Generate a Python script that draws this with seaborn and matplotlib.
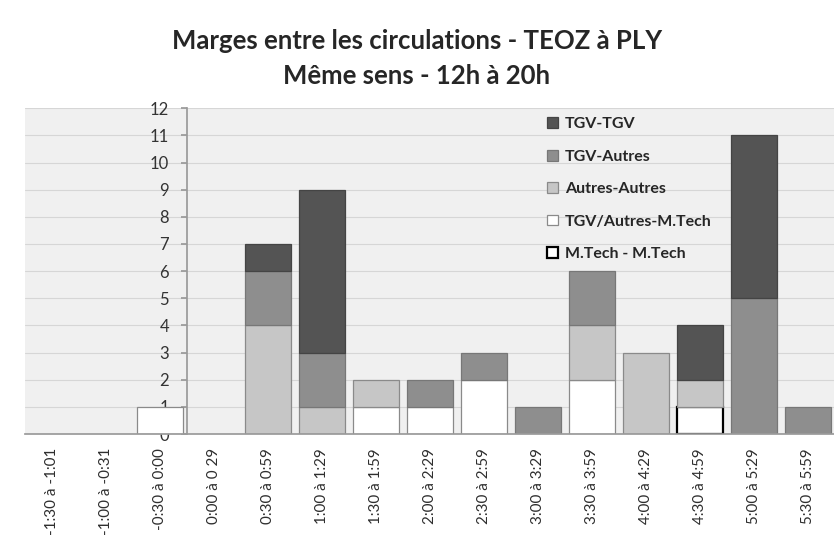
import matplotlib
matplotlib.use('Agg')
import matplotlib.pyplot as plt
import seaborn as sns
import numpy as np

# categories (x) and the five stacked series, bottom to top
categories = ["-1:30 à -1:01", "-1:00 à -0:31", "-0:30 à 0:00", "0:00 à 0 29",
              "0:30 à 0:59", "1:00 à 1:29", "1:30 à 1:59", "2:00 à 2:29",
              "2:30 à 2:59", "3:00 à 3:29", "3:30 à 3:59", "4:00 à 4:29",
              "4:30 à 4:59", "5:00 à 5:29", "5:30 à 5:59"]
mtech_mtech      = [0, 0, 0, 0, 0, 0, 0, 0, 0, 0, 0, 0, 1, 0, 0]
tgv_autres_mtech = [0, 0, 1, 0, 0, 0, 1, 1, 2, 0, 2, 0, 0, 0, 0]
autres_autres    = [0, 0, 0, 0, 4, 1, 1, 0, 0, 0, 2, 3, 1, 0, 0]
tgv_autres       = [0, 0, 0, 0, 2, 2, 0, 1, 1, 1, 2, 0, 0, 5, 1]
tgv_tgv          = [0, 0, 0, 0, 1, 6, 0, 0, 0, 0, 0, 0, 2, 6, 0]

series = [
    ("M.Tech - M.Tech", mtech_mtech, "#ffffff", "#000000", 1.6),
    ("TGV/Autres-M.Tech", tgv_autres_mtech, "#ffffff", "#8a8a8a", 0.9),
    ("Autres-Autres", autres_autres, "#c6c6c6", "#8a8a8a", 0.9),
    ("TGV-Autres", tgv_autres, "#8e8e8e", "#777777", 0.9),
    ("TGV-TGV", tgv_tgv, "#545454", "#444444", 0.9),
]

sns.set_theme(style="white")
plt.rcParams['font.family'] = ['Lato', 'DejaVu Sans']

fig = plt.figure(figsize=(8.34, 5.54), dpi=100)
ax = fig.add_axes([0.030, 0.2166, 0.971, 0.588])
ax.set_facecolor("#f0f0f0")

n = len(categories)
bottom = np.zeros(n)
for name, vals, color, edge, lw in series:
    vals = np.array(vals, dtype=float)
    mask = vals > 0
    sns.barplot(x=[c for c, m in zip(categories, mask) if m], y=vals[mask],
                order=categories, bottom=bottom[mask], color=color,
                edgecolor=edge, linewidth=lw, width=0.84, saturation=1,
                errorbar=None, label=name, ax=ax)
    bottom += vals

ax.set_xlim(-0.5, n - 0.5)
ax.set_ylim(0, 12)
ax.set_yticks(range(0, 13))
ax.yaxis.grid(True, color="#d6d6d6", lw=0.8)
ax.set_axisbelow(True)
ax.set_xlabel("")
ax.set_ylabel("")

# vertical axis crosses between "-0:30 à 0:00" and "0:00 à 0 29"
ax.spines["left"].set_position(("data", 2.5))
ax.spines["left"].set_color("#9a9a9a")
ax.spines["bottom"].set_color("#9a9a9a")
ax.spines["top"].set_visible(False)
ax.spines["right"].set_visible(False)

ax.set_xticks(np.arange(-0.5, n, 1), minor=True)
ax.tick_params(axis="x", which="major", length=0, pad=10, labelsize=10.9,
               labelcolor="#2e2e2e", rotation=90)
ax.tick_params(axis="x", which="minor", length=6, color="#b0b0b0", direction="out")
ax.tick_params(axis="y", length=4, color="#9a9a9a", direction="out", pad=9,
               labelsize=12, labelcolor="#333333", left=True)

handles, labels = ax.get_legend_handles_labels()
ax.legend(handles[::-1], labels[::-1], loc="upper left",
          bbox_to_anchor=(0.639, 0.814), bbox_transform=fig.transFigure,
          frameon=False, labelspacing=1.15, handlelength=0.65, handleheight=0.65,
          handletextpad=0.45, prop={"family": "Lato", "weight": "bold", "size": 11.5})

fig.text(0.5, 0.926, "Marges entre les circulations - TEOZ à PLY", ha="center",
         va="center", family="Lato", weight="bold", fontsize=18.5)
fig.text(0.5, 0.863, "Même sens - 12h à 20h", ha="center", va="center",
         family="Lato", weight="bold", fontsize=18.5)

fig.savefig("out.png", dpi=100)
